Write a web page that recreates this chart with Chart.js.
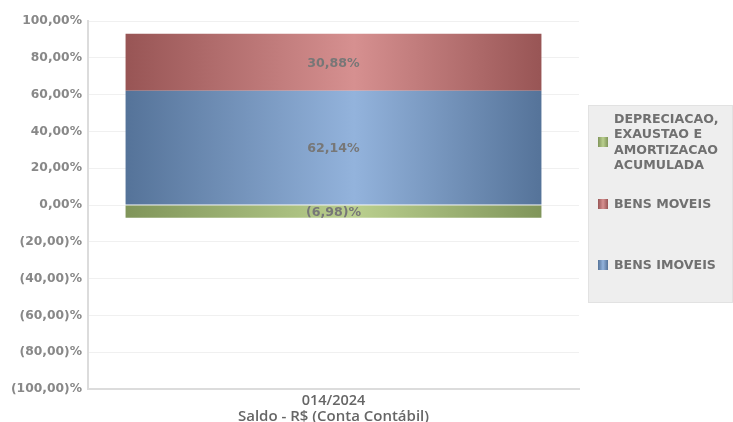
<!DOCTYPE html>
<html><head><meta charset="utf-8">
<script src="https://cdn.jsdelivr.net/npm/chart.js@4"></script>
<style>html,body{margin:0;padding:0;background:#fff}#wrap{width:733px;height:422px;position:relative}</style>
</head><body><div id="wrap"><canvas id="c" width="733" height="422"></canvas></div>
<script>
const categories = ['014/2024'];
const seriesNames = ['BENS IMOVEIS', 'BENS MOVEIS', 'DEPRECIACAO, EXAUSTAO E AMORTIZACAO ACUMULADA'];
const bensImoveis = [62.14];
const bensMoveis = [30.88];
const depreciacao = [-6.98];
const yTicks = [100, 80, 60, 40, 20, 0, -20, -40, -60, -80, -100];
const xTitle = 'Saldo - R$ (Conta Contábil)';

const palettes = [
  {edge:'#557399', mid:'#93b3dc'},
  {edge:'#985555', mid:'#d69090'},
  {edge:'#80955a', mid:'#bacf8e'}
];
const legendLines = [
  ['DEPRECIACAO,', 'EXAUSTAO E', 'AMORTIZACAO', 'ACUMULADA'],
  ['BENS MOVEIS'],
  ['BENS IMOVEIS']
];
const legendMap = [2, 1, 0];

function fmt(v){
  const s = Math.abs(v).toFixed(2).replace('.', ',');
  return v < 0 ? '(' + s + ')%' : s + '%';
}

const gradPlugin = {
  id: 'grad',
  beforeDatasetsDraw(chart){
    const ctx = chart.ctx;
    chart.data.datasets.forEach((ds, i) => {
      const meta = chart.getDatasetMeta(i);
      meta.data.forEach(el => {
        const l = el.x - el.width/2, r = el.x + el.width/2;
        const g = ctx.createLinearGradient(l, 0, r, 0);
        g.addColorStop(0, palettes[i].edge);
        g.addColorStop(0.55, palettes[i].mid);
        g.addColorStop(1, palettes[i].edge);
        el.options.backgroundColor = g;
      });
    });
  },
  afterDatasetsDraw(chart){
    const ctx = chart.ctx;
    ctx.save();
    ctx.font = 'bold 12.6px "DejaVu Sans"';
    ctx.fillStyle = '#777';
    ctx.textAlign = 'center';
    ctx.textBaseline = 'middle';
    chart.data.datasets.forEach((ds, i) => {
      const meta = chart.getDatasetMeta(i);
      meta.data.forEach((el, j) => {
        ctx.fillText(fmt(ds.data[j]), el.x, (el.y + el.base)/2 + 1);
      });
    });
    // legend
    const bx = 588, by = 105, bw = 145, bh = 198;
    ctx.fillStyle = '#eeeeee';
    ctx.fillRect(bx, by, bw, bh);
    ctx.strokeStyle = '#e2e2e2';
    ctx.lineWidth = 1;
    ctx.strokeRect(bx + 0.5, by + 0.5, bw - 1, bh - 1);
    const centers = [142, 204, 265];
    ctx.textAlign = 'left';
    ctx.font = 'bold 12.6px "DejaVu Sans"';
    legendLines.forEach((lines, k) => {
      const di = legendMap[k];
      const cy = centers[k];
      const g = ctx.createLinearGradient(598, 0, 608, 0);
      g.addColorStop(0, palettes[di].edge);
      g.addColorStop(0.5, palettes[di].mid);
      g.addColorStop(1, palettes[di].edge);
      ctx.fillStyle = g;
      ctx.fillRect(598, cy - 5, 10, 10);
      ctx.fillStyle = '#707070';
      const lh = 15.5;
      const start = cy - (lines.length - 1) * lh / 2;
      lines.forEach((t, n) => ctx.fillText(t, 614, start + n * lh + 0.5));
    });
    ctx.restore();
  }
};

new Chart(document.getElementById('c'), {
  type: 'bar',
  data: {
    labels: categories,
    datasets: [
      {label: seriesNames[0], data: bensImoveis, backgroundColor: palettes[0].edge},
      {label: seriesNames[1], data: bensMoveis, backgroundColor: palettes[1].edge},
      {label: seriesNames[2], data: depreciacao, backgroundColor: palettes[2].edge}
    ]
  },
  options: {
    responsive: false,
    animation: false,
    devicePixelRatio: 1,
    layout: {padding: {top: 21, right: 154, left: 0, bottom: 0}},
    plugins: {legend: {display: false}, tooltip: {enabled: false}},
    datasets: {bar: {categoryPercentage: 1, barPercentage: 0.847, borderWidth: 0}},
    scales: {
      x: {
        stacked: true,
        grid: {display: false, drawTicks: false},
        border: {color: '#dcdcdc', width: 2},
        ticks: {color: '#666', font: {family: '"Open Sans"', size: 14.5, weight: 600}, padding: 3},
        title: {display: true, text: xTitle, color: '#666', font: {family: '"Open Sans"', size: 15, weight: 600}, padding: {top: 0, bottom: -3.5}},
        afterFit(s){ s.height = 33; }
      },
      y: {
        stacked: true,
        min: -100, max: 100,
        afterBuildTicks(s){ s.ticks = yTicks.map(v => ({value: v})); },
        grid: {color: '#f0f0f0', drawTicks: false},
        border: {color: '#dcdcdc', width: 2},
        ticks: {color: '#888', font: {family: 'DejaVu Sans', size: 12.3, weight: 'bold'}, padding: 6, callback: v => fmt(v)},
        afterFit(s){ s.width = 88; }
      }
    }
  },
  plugins: [gradPlugin]
});
</script></body></html>
